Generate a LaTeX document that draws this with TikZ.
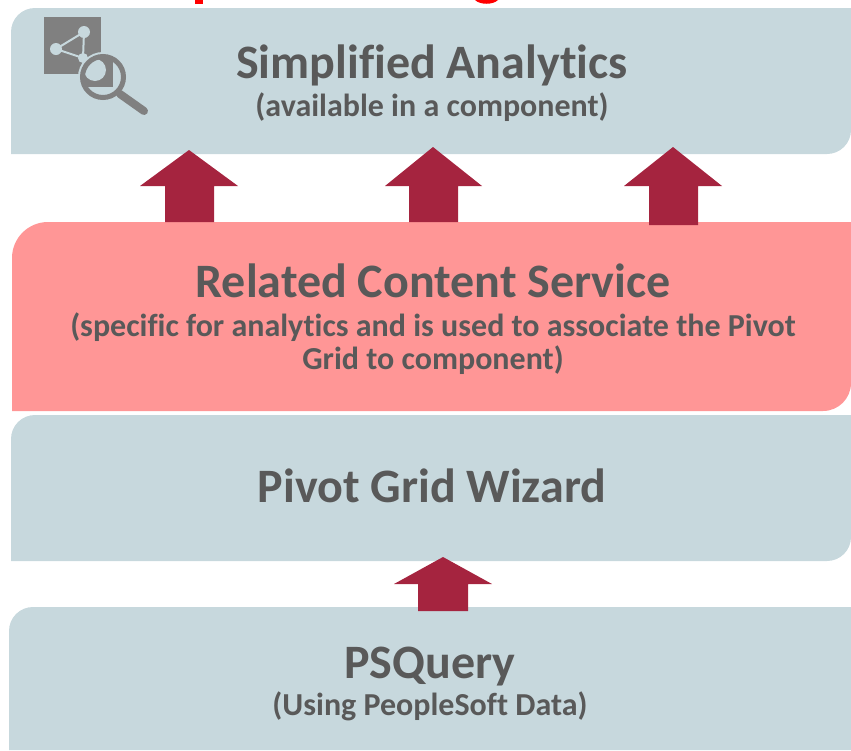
\documentclass[tikz,border=0pt]{standalone}
\usepackage{fontspec}
\setmainfont[Ligatures=NoCommon]{Carlito}
\definecolor{panelblue}{HTML}{C7D8DD}
\definecolor{panelred}{HTML}{FF9696}
\definecolor{arrowred}{HTML}{A5243F}
\definecolor{textgrey}{HTML}{595959}
\definecolor{icongrey}{HTML}{808080}
\tikzset{
  head/.style={font=\bfseries\fontsize{48}{48}\selectfont, text=textgrey, anchor=base, inner sep=0pt},
  sub/.style={font=\bfseries\fontsize{32}{33}\selectfont, text=textgrey, inner sep=0pt, align=center},
  uparrow/.style={fill=arrowred}
}
\begin{document}
\begin{tikzpicture}[x=1pt, y=-1pt]
  \useasboundingbox (0,0) rectangle (851,750);

  % Clipped title
  \fill[red] (195,0) rectangle (203,4);
  \fill[red] (475,0) .. controls (480,5) and (493,5) .. (498,0) -- cycle;

  % Panels
  \fill[panelblue] (11,154) [rounded corners=24pt] -- (11,8) [sharp corners] -- (851,8) [rounded corners=24pt] -- (851,154) [sharp corners] -- cycle;
  \fill[panelred] (12,411) [rounded corners=36pt] -- (12,222) [sharp corners] -- (851,222) [rounded corners=28pt] -- (851,411) [sharp corners] -- cycle;
  \fill[panelblue] (11,561) [rounded corners=24pt] -- (11,415) [sharp corners] -- (851,415) [rounded corners=24pt] -- (851,561) [sharp corners] -- cycle;
  \fill[panelblue] (9,750) [rounded corners=24pt] -- (9,607) [sharp corners] -- (851,607) -- (851,750) -- cycle;

  % Arrows
  \fill[uparrow] (189,150) -- (238,186) -- (214,186) -- (214,222) -- (165,222) -- (165,186) -- (140,186) -- cycle;
  \fill[uparrow] (433,147) -- (482,186) -- (458,186) -- (458,222) -- (409,222) -- (409,186) -- (385,186) -- cycle;
  \fill[uparrow] (673,147) -- (722,186) -- (698,186) -- (698,225) -- (649,225) -- (649,186) -- (624,186) -- cycle;
  \fill[uparrow] (443,557) -- (492,584) -- (468,584) -- (468,611) -- (418,611) -- (418,584) -- (394,584) -- cycle;

  % Icon
  \fill[icongrey] (44,17) rectangle (101,74);
  \draw[panelblue, line width=2pt] (84,32) -- (56,49) -- (83,58) -- cycle;
  \fill[panelblue] (84,32) circle (6);
  \fill[panelblue] (56,49) circle (6);
  \fill[panelblue] (83,58) circle (5);
  \fill[panelblue] (103,77) circle (25);
  \begin{scope}
    \clip (103,77) circle (20);
    \fill[icongrey] (80,55) rectangle (113,87);
    \fill[panelblue] (95,70) circle (11);
  \end{scope}
  \draw[icongrey, line width=5pt] (103,77) circle (20.5);
  \draw[icongrey, line width=8pt, line cap=round] (120,94) -- (144,111);

  % Labels
  \node[head] (analytics) at (432,78) {Simplified Analytics};
  \node[sub] (analyticsnote) at (432,107.5) {(available in a component)};
  \node[head] (service) at (433,297) {Related Content Service};
  \node[sub] (servicenote) at (433,343.5) {(specific for analytics and is used to associate the Pivot\\Grid to component)};
  \node[head] (wizard) at (432,502) {Pivot Grid Wizard};
  \node[head] (query) at (430,678) {PSQuery};
  \node[sub] (querynote) at (430,706.5) {(Using PeopleSoft Data)};
\end{tikzpicture}
\end{document}
